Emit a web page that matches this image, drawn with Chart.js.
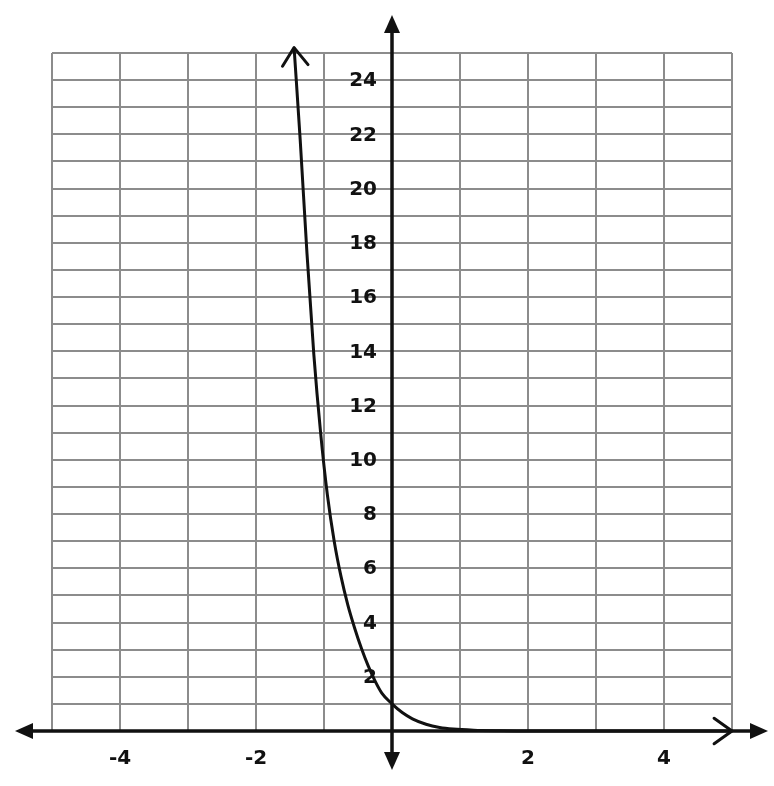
<!DOCTYPE html>
<html>
<head>
<meta charset="utf-8">
<script src="https://cdn.jsdelivr.net/npm/chart.js@4.4.1/dist/chart.umd.min.js"></script>
<style>
    html, body { margin: 0; padding: 0; background: #ffffff; }
    canvas { display: block; }
</style>
</head>
<body>
<canvas id="exp-graph" width="774" height="786"></canvas>

<script>
    // curve points
    let curve_x = [-1.44, -1.35, -1.25, -1.15, -1.05, -0.95, -0.85, -0.75, -0.65, -0.55, -0.45, -0.35, -0.25, -0.15, 0, 0.15, 0.3, 0.5, 0.7, 0.9, 1.2, 1.6, 2.0, 3, 4, 5];
    let curve_y = [25.2, 21.8, 17.6, 13.9, 11.0, 8.7, 7.0, 5.7, 4.65, 3.8, 3.05, 2.4, 1.85, 1.4, 1.0, 0.68, 0.45, 0.25, 0.13, 0.07, 0.03, 0.01, 0, 0, 0, 0];

    // tick labels
    let x_tick_labels = [-4, -2, 2, 4];
    let y_tick_labels = [2, 4, 6, 8, 10, 12, 14, 16, 18, 20, 22, 24];

    let x_min = -5, x_max = 5, y_min = 0, y_max = 25;

    let grid_color = '#8c8c8c';
    let ink = '#111111';

    function filled_arrow(ctx, tx, ty, angle) {
        // tip at (tx, ty), pointing along angle
        const len = 18, half = 8;
        ctx.save();
        ctx.translate(tx, ty);
        ctx.rotate(angle);
        ctx.beginPath();
        ctx.moveTo(0, 0);
        ctx.lineTo(-len, -half);
        ctx.lineTo(-len, half);
        ctx.closePath();
        ctx.fill();
        ctx.restore();
    }

    function open_arrow(ctx, tx, ty, angle) {
        const len = 22, spread = 0.62;
        ctx.save();
        ctx.translate(tx, ty);
        ctx.rotate(angle);
        ctx.beginPath();
        ctx.moveTo(-len * Math.cos(spread), -len * Math.sin(spread));
        ctx.lineTo(0, 0);
        ctx.lineTo(-len * Math.cos(spread), len * Math.sin(spread));
        ctx.stroke();
        ctx.restore();
    }

    const axes_plugin = {
        id: 'axes_plugin',
        beforeDatasetsDraw(chart) {
            const {ctx, chartArea, scales: {x, y}} = chart;
            const x0 = x.getPixelForValue(0);
            const y0 = y.getPixelForValue(0);
            ctx.save();

            // tick labels
            ctx.fillStyle = ink;
            ctx.font = 'bold 20px "DejaVu Sans"';
            ctx.textBaseline = 'middle';
            ctx.textAlign = 'center';
            x_tick_labels.forEach(v => ctx.fillText(String(v), x.getPixelForValue(v), y0 + 28));
            ctx.textAlign = 'right';
            y_tick_labels.forEach(v => ctx.fillText(String(v), x0 - 15, y.getPixelForValue(v) + 1));

            // axis lines with arrow heads, running past the grid
            ctx.strokeStyle = ink;
            ctx.lineWidth = 3.5;
            ctx.beginPath();
            ctx.moveTo(chartArea.left - 32, y0);
            ctx.lineTo(chartArea.right + 30, y0);
            ctx.moveTo(x0, chartArea.top - 33);
            ctx.lineTo(x0, chartArea.bottom + 34);
            ctx.stroke();
            filled_arrow(ctx, chartArea.left - 37, y0, Math.PI);
            filled_arrow(ctx, chartArea.right + 36, y0, 0);
            filled_arrow(ctx, x0, chartArea.top - 38, -Math.PI / 2);
            filled_arrow(ctx, x0, chartArea.bottom + 39, Math.PI / 2);
            ctx.restore();
        },
        afterDatasetsDraw(chart) {
            const {ctx, scales: {x, y}} = chart;
            const n = curve_x.length;
            ctx.save();
            ctx.strokeStyle = ink;
            ctx.lineWidth = 3;
            ctx.lineCap = 'round';
            ctx.lineJoin = 'round';

            // open arrow at the top end of the curve
            let ax = x.getPixelForValue(curve_x[0]), ay = y.getPixelForValue(curve_y[0]);
            let bx = x.getPixelForValue(curve_x[1]), by = y.getPixelForValue(curve_y[1]);
            open_arrow(ctx, ax, ay, Math.atan2(ay - by, ax - bx));

            // open arrow at the right end
            ax = x.getPixelForValue(curve_x[n - 1]); ay = y.getPixelForValue(curve_y[n - 1]);
            bx = x.getPixelForValue(curve_x[n - 2]); by = y.getPixelForValue(curve_y[n - 2]);
            open_arrow(ctx, ax, ay, Math.atan2(ay - by, ax - bx));
            ctx.restore();
        }
    };

    let points = curve_x.map((v, i) => ({x: v, y: curve_y[i]}));

    new Chart(document.getElementById('exp-graph'), {
        type: 'scatter',
        data: {
            datasets: [{
                data: points,
                showLine: true,
                borderColor: ink,
                borderWidth: 3,
                pointRadius: 0,
                cubicInterpolationMode: 'monotone',
                clip: false
            }]
        },
        options: {
            responsive: false,
            animation: false,
            events: [],
            layout: {
                padding: {left: 52, right: 42, top: 53, bottom: 55}
            },
            plugins: {
                legend: {display: false},
                tooltip: {enabled: false}
            },
            scales: {
                x: {
                    type: 'linear',
                    min: x_min,
                    max: x_max,
                    position: {y: 0},
                    ticks: {display: false, stepSize: 1, maxTicksLimit: 30},
                    grid: {color: grid_color, lineWidth: 2, drawTicks: false},
                    border: {display: false}
                },
                y: {
                    type: 'linear',
                    min: y_min,
                    max: y_max,
                    position: {x: 0},
                    ticks: {display: false, stepSize: 1, maxTicksLimit: 30},
                    grid: {color: grid_color, lineWidth: 2, drawTicks: false},
                    border: {display: false}
                }
            }
        },
        plugins: [axes_plugin]
    });
</script>
</body>
</html>
